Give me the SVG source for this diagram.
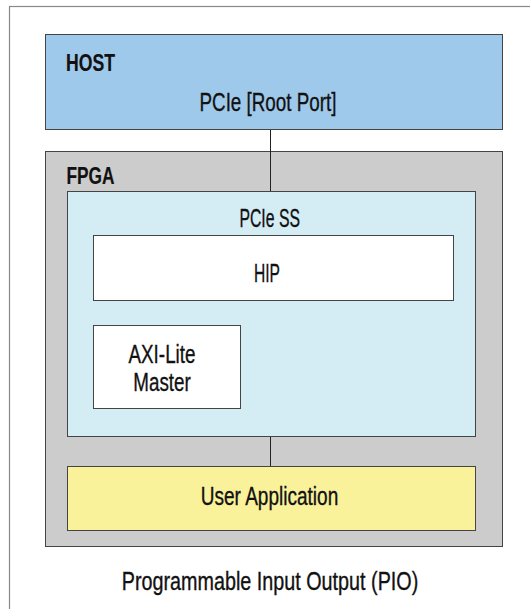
<svg xmlns="http://www.w3.org/2000/svg" width="530" height="609" viewBox="0 0 530 609">
<style>
text{font-family:"Liberation Sans",Arial,sans-serif;font-size:25.5px;fill:#111;stroke:#111;stroke-width:0.35}
.c{text-anchor:middle}
.b{font-weight:bold;font-size:24.5px;stroke-width:0.2}
.box{stroke:#444;stroke-width:1}
</style>
<rect x="9.5" y="6.5" width="530" height="610" fill="#fff" stroke="#888" stroke-width="1.2"/>
<g id="host">
<rect class="box" x="45.5" y="34.5" width="457" height="95" fill="#9fc9ea"/>
<text class="b" x="66" y="71" textLength="49" lengthAdjust="spacingAndGlyphs">HOST</text>
<text class="c" x="268" y="111" textLength="137" lengthAdjust="spacingAndGlyphs">PCIe [Root Port]</text>
</g>
<g id="fpga">
<rect class="box" x="45.5" y="151.5" width="457" height="395" fill="#cccccc"/>
<text class="b" x="66.5" y="183.5" textLength="48" lengthAdjust="spacingAndGlyphs">FPGA</text>
</g>
<g id="pcie-ss">
<rect class="box" x="67.5" y="191.5" width="408" height="245" fill="#d4ecf3"/>
<text class="c" x="269.7" y="226.7" textLength="60.5" lengthAdjust="spacingAndGlyphs">PCIe SS</text>
</g>
<g id="hip">
<rect class="box" x="93.5" y="235.5" width="360" height="65" fill="#fff"/>
<text class="c" x="267" y="281.7" textLength="26" lengthAdjust="spacingAndGlyphs">HIP</text>
</g>
<g id="axi">
<rect class="box" x="93.5" y="325.5" width="147" height="83" fill="#fff"/>
<text class="c" x="162" y="363" textLength="67" lengthAdjust="spacingAndGlyphs">AXI-Lite</text>
<text class="c" x="162" y="391" textLength="57.5" lengthAdjust="spacingAndGlyphs">Master</text>
</g>
<g id="user-app">
<rect class="box" x="67.5" y="466.5" width="408" height="64" fill="#f9f29b"/>
<text class="c" x="269.5" y="505" textLength="137.5" lengthAdjust="spacingAndGlyphs">User Application</text>
</g>
<g id="connectors" stroke="#222" stroke-width="1">
<line x1="270.5" y1="130" x2="270.5" y2="191"/>
<line x1="270.5" y1="437" x2="270.5" y2="466"/>
</g>
<text class="c" x="270" y="590" textLength="296.5" lengthAdjust="spacingAndGlyphs">Programmable Input Output (PIO)</text>
</svg>
